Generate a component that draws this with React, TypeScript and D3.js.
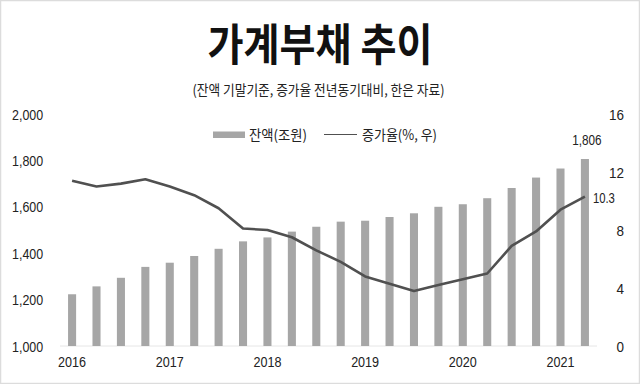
import React from "react";
import * as d3 from "d3";

const quarters = [
  "2016Q1","2016Q2","2016Q3","2016Q4",
  "2017Q1","2017Q2","2017Q3","2017Q4",
  "2018Q1","2018Q2","2018Q3","2018Q4",
  "2019Q1","2019Q2","2019Q3","2019Q4",
  "2020Q1","2020Q2","2020Q3","2020Q4",
  "2021Q1","2021Q2",
];
const balance = [
  1223, 1257, 1294, 1341, 1359, 1388, 1419, 1451,
  1468, 1493, 1514, 1536, 1540, 1556, 1572, 1600,
  1611, 1637, 1681, 1726, 1765, 1806,
];
const growth = [
  11.4, 11.0, 11.2, 11.5, 11.0, 10.4, 9.5, 8.1,
  8.0, 7.5, 6.6, 5.8, 4.8, 4.3, 3.8, 4.2,
  4.6, 5.0, 6.9, 7.9, 9.4, 10.3,
];
const yearLabels = ["2016", "2017", "2018", "2019", "2020", "2021"];
const leftTicks = [1000, 1200, 1400, 1600, 1800, 2000];
const rightTicks = [0, 4, 8, 12, 16];
const title = "가계부채 추이";
const subtitle = "(잔액 기말기준, 증가율 전년동기대비, 한은 자료)";
const legendBar = "잔액(조원)";
const legendLine = "증가율(%, 우)";

const W = 640;
const H = 384;
const KR = "'Noto Sans CJK KR', 'Noto Sans', sans-serif";
const NUM = "'Liberation Sans Narrow', 'Liberation Sans', Arial, sans-serif";

function numWidth(s: string, d: number) {
  let w = 0;
  for (const c of s) w += c === "," || c === "." ? d * 0.45 : d;
  return w;
}

export default function App() {
  const x = d3.scaleBand<string>().domain(quarters).range([60, 597]).paddingInner(0.67).paddingOuter(0.33);
  const yL = d3.scaleLinear().domain([1000, 2000]).range([346, 114]);
  const yR = d3.scaleLinear().domain([0, 16]).range([346, 114]);
  const cx = (q: string) => (x(q) ?? 0) + x.bandwidth() / 2;

  const line = d3
    .line<number>()
    .x((_, i) => cx(quarters[i]))
    .y((v) => yR(v));

  const lastQ = quarters[quarters.length - 1];
  const lastB = balance[balance.length - 1];
  const lastG = growth[growth.length - 1];
  const fmt = d3.format(",");

  return (
    <svg
      width={W}
      height={H}
      style={{ position: "absolute", left: 0, top: 0, background: "#fff" }}
    >
      <rect x={0.5} y={0.5} width={W - 1} height={H - 1} fill="#fff" stroke="#dcdcdc" strokeWidth={1.5} />
      <text
        x={W / 2 }
        y={61}
        textAnchor="middle"
        fontFamily={KR}
        fontWeight={700}
        fontSize={44}
        fill="#111"
        textLength={225}
        lengthAdjust="spacingAndGlyphs"
      >
        {title}
      </text>
      <text
        x={318.5}
        y={95}
        textAnchor="middle"
        fontFamily={KR}
        fontSize={14}
        fill="#222"
        textLength={252}
        lengthAdjust="spacingAndGlyphs"
      >
        {subtitle}
      </text>

      {/* baseline */}
      <line x1={60} x2={597} y1={yL(1000)} y2={yL(1000)} stroke="#e6e6e6" strokeWidth={1} />

      {/* bars */}
      {quarters.map((q, i) => (
        <rect
          key={q}
          x={x(q)}
          y={yL(balance[i])}
          width={x.bandwidth()}
          height={yL(1000) - yL(balance[i])}
          fill="#a6a6a6"
        />
      ))}

      {/* line */}
      <path d={line(growth) ?? ""} fill="none" stroke="#505050" strokeWidth={2.6} strokeLinejoin="round" />

      {/* left axis */}
      {leftTicks.map((t) => {
        const s = fmt(t);
        return (
          <text
            key={t}
            x={12}
            y={yL(t) + 5.5}
            fontFamily={NUM}
            fontSize={15}
            fill="#222"
            textLength={numWidth(s, 7)}
            lengthAdjust="spacingAndGlyphs"
          >
            {s}
          </text>
        );
      })}

      {/* right axis */}
      {rightTicks.map((t) => {
        const s = String(t);
        return (
          <text
            key={t}
            x={624}
            y={yR(t) + 5.5}
            textAnchor="end"
            fontFamily={NUM}
            fontSize={15}
            fill="#222"
            textLength={numWidth(s, 7.5)}
            lengthAdjust="spacingAndGlyphs"
          >
            {s}
          </text>
        );
      })}

      {/* x labels */}
      {yearLabels.map((yr) => {
        const q = yr + "Q1";
        return (
          <text
            key={yr}
            x={cx(q)}
            y={367}
            textAnchor="middle"
            fontFamily={NUM}
            fontSize={14}
            fill="#222"
            textLength={28}
            lengthAdjust="spacingAndGlyphs"
          >
            {yr}
          </text>
        );
      })}

      {/* annotations */}
      <text
        x={cx(lastQ) + 2}
        y={yL(lastB) - 14}
        textAnchor="middle"
        fontFamily={NUM}
        fontSize={14}
        fill="#222"
        textLength={numWidth(fmt(lastB), 6.6)}
        lengthAdjust="spacingAndGlyphs"
      >
        {fmt(lastB)}
      </text>
      <text
        x={cx(lastQ) + 8}
        y={yR(lastG) + 6}
        fontFamily={NUM}
        fontSize={15}
        fill="#222"
        textLength={22}
        lengthAdjust="spacingAndGlyphs"
      >
        {String(lastG)}
      </text>

      {/* legend */}
      <rect x={213} y={131.5} width={32} height={6.5} fill="#a6a6a6" />
      <text
        x={249}
        y={139.5}
        fontFamily={KR}
        fontSize={14}
        fill="#222"
        textLength={58}
        lengthAdjust="spacingAndGlyphs"
      >
        {legendBar}
      </text>
      <line x1={324} x2={357} y1={134.5} y2={134.5} stroke="#505050" strokeWidth={1.2} />
      <text
        x={362}
        y={139.5}
        fontFamily={KR}
        fontSize={14}
        fill="#222"
        textLength={75}
        lengthAdjust="spacingAndGlyphs"
      >
        {legendLine}
      </text>
    </svg>
  );
}
